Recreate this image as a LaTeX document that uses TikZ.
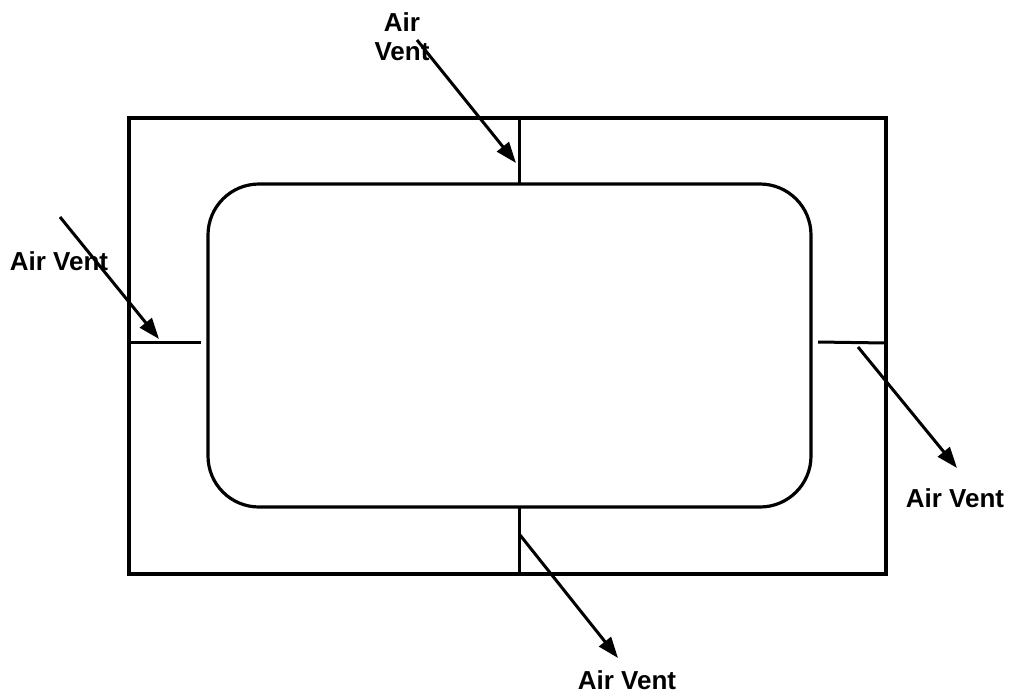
\documentclass[tikz,border=0pt]{standalone}
\usepackage{fontspec}
\setmainfont{Liberation Sans}
\usetikzlibrary{arrows.meta}
\tikzset{
  wall/.style={line width=3.2pt, line cap=rect},
  ventline/.style={line width=3pt},
  pointer/.style={line width=3pt, -{Triangle[length=21pt,width=15pt]}},
  lbl/.style={font=\fontsize{26}{29}\selectfont\bfseries, inner sep=0pt, align=center}
}
\begin{document}
\begin{tikzpicture}[x=1pt,y=-1pt]
\useasboundingbox (0,0) rectangle (1017,697);
% outer frame
\draw[wall] (129,118) rectangle (886,574);
% inner rounded box
\draw[wall, rounded corners=51pt] (208,184) rectangle (811,507);
% vent partitions
\coordinate (tv1) at (519,118); \coordinate (tv2) at (519,184);
\coordinate (bv1) at (519,507); \coordinate (bv2) at (519,574);
\coordinate (lv1) at (129,342); \coordinate (lv2) at (201,342);
\coordinate (rv1) at (818,342); \coordinate (rv2) at (886,343);
\draw[ventline] (tv1) -- (tv2);
\draw[ventline] (bv1) -- (bv2);
\draw[ventline] (lv1) -- (lv2);
\draw[ventline] (rv1) -- (rv2);
% labels
\node[lbl] (ltop) at (402,37) {Air\\Vent};
\node[lbl] (lleft) at (59,261) {Air Vent};
\node[lbl] (lright) at (955,498) {Air Vent};
\node[lbl] (lbot) at (627,680) {Air Vent};
% arrows
\coordinate (ta) at (417,40);  \coordinate (tb) at (516,163);
\coordinate (la) at (60,217);  \coordinate (lb) at (159,339);
\coordinate (ra) at (858,347); \coordinate (rb) at (957,468);
\coordinate (ba) at (520,535); \coordinate (bb) at (618,658);
\draw[pointer] (ta) -- (tb);
\draw[pointer] (la) -- (lb);
\draw[pointer] (ra) -- (rb);
\draw[pointer] (ba) -- (bb);
\end{tikzpicture}
\end{document}
